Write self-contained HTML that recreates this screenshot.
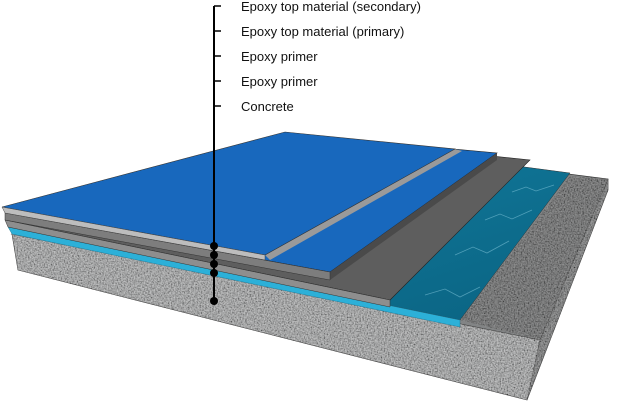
<!DOCTYPE html>
<html><head><style>
html,body{margin:0;padding:0;background:#fff;width:620px;height:405px;overflow:hidden}
svg{display:block}
text{font-family:"Liberation Sans",sans-serif;font-size:13px;fill:#111}
</style></head><body>
<svg width="620" height="405" viewBox="0 0 620 405">
<defs>
<filter id="grain" x="0" y="0" width="100%" height="100%">
<feTurbulence type="fractalNoise" baseFrequency="0.7" numOctaves="2" seed="3" result="n"/>
<feColorMatrix in="n" type="matrix" values="1.8 0 0 0 -0.35  1.8 0 0 0 -0.35  1.8 0 0 0 -0.35  0 0 0 0 0.55" result="c"/>
<feComposite in="c" in2="SourceAlpha" operator="in"/>
</filter>
<linearGradient id="water" x1="0" y1="0" x2="1" y2="1">
<stop offset="0" stop-color="#1a90b3"/><stop offset="0.5" stop-color="#0f7394"/><stop offset="1" stop-color="#0a6382"/>
</linearGradient>
</defs>
<!-- concrete -->
<polygon points="12,234 540,340 527,400 18,270" fill="#9c9e9f" stroke="#333" stroke-width="0.7"/>
<polygon points="540,340 608,179 608,190 527,400" fill="#7c7e7f" stroke="#333" stroke-width="0.7"/>
<polygon points="12,234 300,140 608,179 540,340" fill="#828485" stroke="#333" stroke-width="0.7"/>
<g filter="url(#grain)">
<polygon points="12,234 540,340 527,400 18,270" fill="#000"/>
<polygon points="540,340 608,179 608,190 527,400" fill="#000"/>
<polygon points="460,320 570,176 608,179 540,340" fill="#000"/>
</g>
<polygon points="460,320 570,176 608,179 540,340" fill="#000" opacity="0.28"/>
<polygon points="540,340 608,179 608,190 527,400" fill="#000" opacity="0.2"/>
<polygon points="12,234 540,340 527,400 18,270" fill="#000" opacity="0.08"/>
<!-- cyan primer -->
<polygon points="8,227 290,136 570,173 460,320" fill="url(#water)" stroke="#333" stroke-width="0.5"/>
<g stroke="#9fdcee" stroke-width="0.8" fill="none" opacity="0.45">
<path d="M425,295 l20,-6 l15,8 l20,-10"/><path d="M455,255 l18,-8 l14,6 l22,-12"/><path d="M485,220 l15,-6 l12,5 l20,-9"/><path d="M512,192 l14,-5 l10,4 l18,-6"/>
</g>
<polygon points="8,227 460,320 460,327 12,234" fill="#2cb0d8" stroke="#1a6f8a" stroke-width="0.4"/>
<!-- gray primer -->
<polygon points="5,220 290,135 530,160 390,300" fill="#5e5e5e" stroke="#222" stroke-width="0.6"/>
<polygon points="5,220 390,300 390,307 8,227" fill="#8e8e8e" stroke="#333" stroke-width="0.5"/>
<!-- secondary sheet -->
<polygon points="5,213 288,134 497,153 330,272" fill="#1868bd" stroke="#222" stroke-width="0.6"/>
<polygon points="330,272 497,153 497,160 330,280" fill="#4a4a4a"/>
<polygon points="5,213 330,272 330,280 5,220" fill="#7d7d7d" stroke="#333" stroke-width="0.5"/>
<!-- primary sheet -->
<polygon points="265,255 455,149 462,151 270,260" fill="#9a9a9a"/>
<polygon points="2,207 285,132 455,149 265,255" fill="#1868bd" stroke="#333" stroke-width="0.6"/>
<polygon points="2,207 265,255 265,260 5,213" fill="#bdbdbd" stroke="#444" stroke-width="0.5"/>
<!-- leader -->
<line x1="214" y1="6" x2="214" y2="300" stroke="#000" stroke-width="2"/>
<g stroke="#000" stroke-width="1.5">
<line x1="214" y1="6" x2="221" y2="6"/><line x1="214" y1="31" x2="221" y2="31"/><line x1="214" y1="56" x2="221" y2="56"/><line x1="214" y1="81" x2="221" y2="81"/><line x1="214" y1="106" x2="221" y2="106"/>
</g>
<g fill="#000"><circle cx="214" cy="246" r="4"/><circle cx="214" cy="255" r="4"/><circle cx="214" cy="264" r="4"/><circle cx="214" cy="273" r="4"/><circle cx="214" cy="301" r="4"/></g>
<text x="241" y="11">Epoxy top material (secondary)</text>
<text x="241" y="36">Epoxy top material (primary)</text>
<text x="241" y="61">Epoxy primer</text>
<text x="241" y="86">Epoxy primer</text>
<text x="241" y="111">Concrete</text>
</svg>
</body></html>
